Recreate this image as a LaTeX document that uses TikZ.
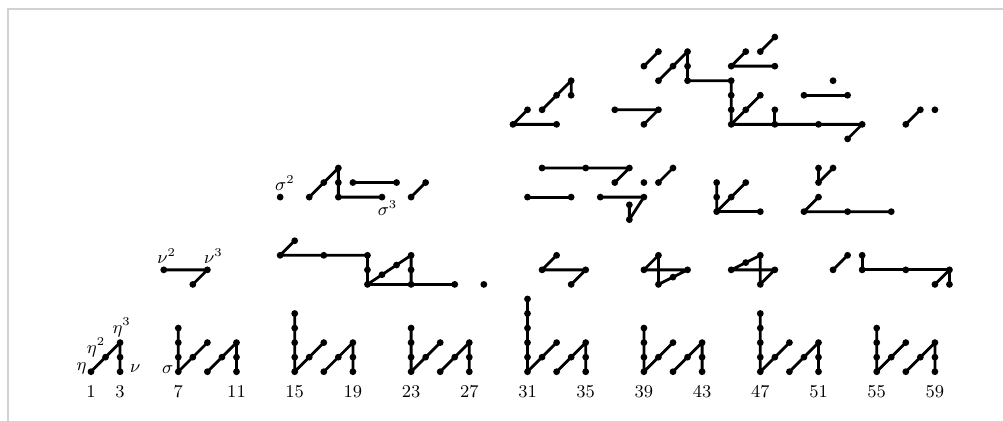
\documentclass[tikz,border=0pt]{standalone}
\newcommand\D[2]{\node[dot] (n#1-#2) at (#1,#2) {};}
\newcommand\DN[3]{\node[dot] (#1) at (#2,#3) {};}
\begin{document}
\begin{tikzpicture}[x=7.275pt,y=7.275pt,
  dot/.style={circle,fill=black,draw=none,inner sep=0pt,minimum size=3.4pt},
  ln/.style={line width=1.4pt,line join=round},
  lab/.style={inner sep=0pt,font=\fontsize{9}{10.8}\selectfont},
  num/.style={inner sep=0pt,anchor=base,font=\fontsize{9}{10.8}\selectfont}]
\useasboundingbox (-5.254,-3.320) rectangle (63.680,25.546);
\draw[gray!35,line width=0.6pt] (-4.704,-3.5) -- (-4.704,24.93) -- (63.8,24.93);

% ---------- band 1 ----------
\D{1}{0}\D{2}{1}\D{3}{2}\D{3}{1}\D{3}{0}
\draw[ln] (n1-0.center)--(n3-2.center)--(n3-0.center);
\node[num] (l1) at (1,-1.75) {1};
\node[num] (l3) at (3,-1.75) {3};
\foreach \k/\h in {7/3,15/4,23/3,31/5,39/3,47/4,55/3}{
  \pgfmathtruncatemacro\kA{\k+1}
  \pgfmathtruncatemacro\kB{\k+2}
  \pgfmathtruncatemacro\kC{\k+3}
  \pgfmathtruncatemacro\kD{\k+4}
  \foreach \r in {0,...,\h}{\D{\k}{\r}}
  \D{\kA}{1}\D{\kB}{2}\D{\kB}{0}\D{\kC}{1}\D{\kD}{2}\D{\kD}{1}\D{\kD}{0}
  \draw[ln] (n\k-\h.center)--(n\k-0.center)--(n\kB-2.center);
  \draw[ln] (n\kB-0.center)--(n\kD-2.center)--(n\kD-0.center);
  \node[num] (l\k) at (\k,-1.75) {\k};
  \node[num] (l\kD) at (\kD,-1.75) {\kD};
}
\node[lab] (eta) at (0.35,0.22) {$\eta$};
\node[lab] (eta2) at (1.35,1.65) {$\eta^2$};
\node[lab] (eta3) at (3.11,3.05) {$\eta^3$};
\node[lab] (nu) at (4.05,0.2) {$\nu$};
\node[lab] (sig) at (6.28,0.12) {$\sigma$};

% ---------- band 2 ----------
\D{6}{7}\D{9}{7}\D{8}{6}
\draw[ln] (n6-7.center)--(n9-7.center)--(n8-6.center);
\node[lab] (nu2) at (6.2,7.95) {$\nu^2$};
\node[lab] (nu3) at (9.41,7.95) {$\nu^3$};
\D{14}{8}\D{15}{9}\D{17}{8}\D{20}{8}\D{20}{7}\D{20}{6}
\DN{q21}{21}{6.667}\DN{q22}{22}{7.333}
\D{23}{8}\D{23}{7}\D{23}{6}\D{26}{6}\D{28}{6}
\draw[ln] (n15-9.center)--(n14-8.center)--(n20-8.center)--(n20-6.center)--(n23-8.center)--(n23-6.center);
\draw[ln] (n20-6.center)--(n26-6.center);
\D{33}{8}\D{32}{7}\D{35}{7}\D{34}{6}
\draw[ln] (n33-8.center)--(n32-7.center)--(n35-7.center)--(n34-6.center);
\D{39}{7}\D{40}{8}\D{40}{6}\D{42}{7}\DN{q41}{41}{6.5}
\draw[ln] (n39-7.center)--(n40-8.center)--(n40-6.center)--(n42-7.center)--(n39-7.center);
\D{45}{7}\DN{q46}{46}{7.5}\D{47}{8}\D{47}{6}\D{48}{7}
\draw[ln] (n45-7.center)--(n47-8.center)--(n47-6.center)--(n48-7.center)--(n45-7.center);
\D{52}{7}\D{53}{8}\D{54}{8}\D{54}{7}\D{57}{7}\D{60}{7}\D{60}{6}\D{59}{6}
\draw[ln] (n52-7.center)--(n53-8.center);
\draw[ln] (n54-8.center)--(n54-7.center)--(n60-7.center)--(n60-6.center);
\draw[ln] (n60-7.center)--(n59-6.center);

% ---------- band 3 ----------
\D{14}{12}
\node[lab] (sig2) at (14.33,12.95) {$\sigma^2$};
\D{16}{12}\D{17}{13}\D{18}{14}\D{18}{13}\D{18}{12}\D{21}{12}
\draw[ln] (n16-12.center)--(n18-14.center)--(n18-12.center)--(n21-12.center);
\node[lab] (sig3) at (21.38,11.25) {$\sigma^3$};
\D{19}{13}\D{22}{13}
\draw[ln] (n19-13.center)--(n22-13.center);
\D{23}{12}\D{24}{13}
\draw[ln] (n23-12.center)--(n24-13.center);
\D{32}{14}\D{35}{14}\D{38}{14}\D{37}{13}
\draw[ln] (n32-14.center)--(n38-14.center)--(n37-13.center);
\D{39}{13}
\D{40}{13}\D{41}{14}
\draw[ln] (n40-13.center)--(n41-14.center);
\D{31}{12}\D{34}{12}
\draw[ln] (n31-12.center)--(n34-12.center);
\D{36}{12}\D{39}{12}\DN{q38a}{38}{10.45}\DN{q38b}{38}{11.47}
\draw[ln] (n36-12.center)--(n39-12.center)--(q38a.center)--(q38b.center);
\D{44}{13}\D{44}{12}\D{44}{11}\D{45}{12}\D{46}{13}\D{47}{11}
\draw[ln] (n44-13.center)--(n44-11.center)--(n46-13.center);
\draw[ln] (n44-11.center)--(n47-11.center);
\D{51}{14}\D{51}{13}\D{52}{14}
\draw[ln] (n51-14.center)--(n51-13.center)--(n52-14.center);
\D{50}{11}\D{51}{12}\D{53}{11}\D{56}{11}
\draw[ln] (n51-12.center)--(n50-11.center)--(n56-11.center);

% ---------- band 4 ----------
\D{30}{17}\D{31}{18}\D{33}{17}
\draw[ln] (n31-18.center)--(n30-17.center)--(n33-17.center);
\D{32}{18}\D{33}{19}\D{34}{20}\D{34}{19}
\draw[ln] (n32-18.center)--(n34-20.center)--(n34-19.center);
\D{37}{18}\D{40}{18}\D{39}{17}
\draw[ln] (n37-18.center)--(n40-18.center)--(n39-17.center);
\D{39}{21}\D{40}{22}
\draw[ln] (n39-21.center)--(n40-22.center);
\D{40}{20}\D{41}{21}\D{42}{22}\D{42}{21}\D{42}{20}
\D{45}{20}\D{45}{19}\D{45}{18}\D{45}{17}
\draw[ln] (n40-20.center)--(n42-22.center)--(n42-20.center)--(n45-20.center)--(n45-17.center);
\D{45}{21}\D{46}{22}\D{48}{21}
\draw[ln] (n46-22.center)--(n45-21.center)--(n48-21.center);
\D{47}{22}\D{48}{23}
\draw[ln] (n47-22.center)--(n48-23.center);
\D{46}{18}\D{47}{19}\D{48}{17}\D{51}{17}\D{54}{17}\D{48}{18}\D{53}{16}
\draw[ln] (n47-19.center)--(n45-17.center)--(n54-17.center)--(n53-16.center);
\draw[ln] (n48-17.center)--(n48-18.center);
\D{50}{19}\D{53}{19}
\draw[ln] (n50-19.center)--(n53-19.center);
\D{52}{20}
\D{57}{17}\D{58}{18}
\draw[ln] (n57-17.center)--(n58-18.center);
\D{59}{18}
\end{tikzpicture}
\end{document}
